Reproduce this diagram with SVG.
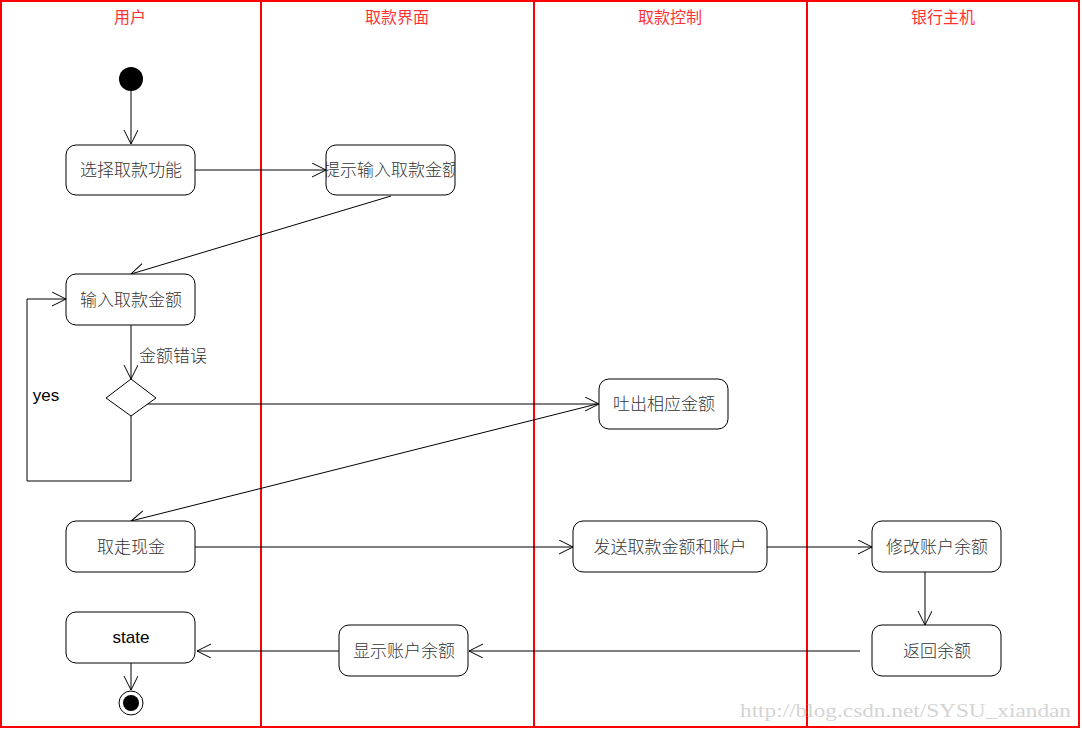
<svg xmlns="http://www.w3.org/2000/svg" width="1082" height="729" viewBox="0 0 1082 729">
<style>
.lane{stroke:#ff0000;stroke-width:2;fill:none}
.hdr{font-family:"Noto Sans CJK SC","Liberation Sans",sans-serif;font-size:16px;fill:#ff3333;text-anchor:middle}
.box{fill:#fff;stroke:#000;stroke-width:1}
.t{font-family:"Noto Sans CJK SC","Liberation Sans",sans-serif;font-size:17px;font-weight:300;fill:#333;text-anchor:middle;dominant-baseline:central}
.e{font-family:"Liberation Sans",Arial,sans-serif;font-size:17px;fill:#000;text-anchor:middle;dominant-baseline:central}
.c{stroke:#000;stroke-width:1;fill:none;marker-end:url(#arr)}
</style>
<defs>
<marker id="arr" markerUnits="userSpaceOnUse" markerWidth="16" markerHeight="16" refX="14" refY="7" orient="auto">
<path d="M0,0 L14,7 L0,14" fill="none" stroke="#000" stroke-width="1"/>
</marker>
<clipPath id="clipTip"><rect x="326" y="145" width="129" height="50" rx="10"/></clipPath>
</defs>
<rect x="0" y="0" width="1082" height="729" fill="#fff"/>
<g id="lanes">
<rect class="lane" x="1" y="1" width="1078" height="726" stroke-width="1.5"/>
<line class="lane" x1="261" y1="1" x2="261" y2="728"/>
<line class="lane" x1="534" y1="1" x2="534" y2="728"/>
<line class="lane" x1="807" y1="1" x2="807" y2="728"/>
<text class="hdr" x="130" y="23">用户</text>
<text class="hdr" x="397" y="23">取款界面</text>
<text class="hdr" x="670" y="23">取款控制</text>
<text class="hdr" x="943" y="23">银行主机</text>
</g>
<g id="connectors">
<line class="c" x1="131" y1="91" x2="131" y2="144"/>
<line class="c" x1="195" y1="170" x2="326" y2="170"/>
<line class="c" x1="391" y1="196" x2="131" y2="274"/>
<line class="c" x1="131" y1="325" x2="131" y2="379"/>
<text class="t" x="173" y="354">金额错误</text>
<line class="c" x1="144" y1="404" x2="599" y2="404"/>
<line class="c" x1="597" y1="404" x2="131" y2="521"/>
<polyline class="c" points="131,416 131,481 27,481 27,299 66,299"/>
<text class="e" x="46" y="395">yes</text>
<line class="c" x1="195" y1="547" x2="573" y2="547"/>
<line class="c" x1="767" y1="547" x2="872" y2="547"/>
<line class="c" x1="925" y1="572" x2="925" y2="625"/>
<line class="c" x1="860" y1="651" x2="469" y2="651"/>
<line class="c" x1="339" y1="651" x2="197" y2="651"/>
<line class="c" x1="131" y1="663" x2="131" y2="690"/>
</g>
<g id="start"><circle cx="131" cy="79" r="12" fill="#000"/></g>
<g id="n_select"><rect class="box" x="66" y="145" width="129" height="50" rx="10"/><text class="t" x="131" y="168">选择取款功能</text></g>
<g id="n_prompt"><rect class="box" x="326" y="145" width="129" height="50" rx="10"/><g clip-path="url(#clipTip)"><text class="t" x="391" y="168">提示输入取款金额</text></g></g>
<g id="n_input"><rect class="box" x="66" y="274" width="129" height="51" rx="10"/><text class="t" x="131" y="298">输入取款金额</text></g>
<g id="decision"><polygon points="131,379 156,398 131,416 106,398" fill="#fff" stroke="#000" stroke-width="1"/></g>
<g id="n_dispense"><rect class="box" x="599" y="379" width="129" height="50" rx="10"/><text class="t" x="664" y="402">吐出相应金额</text></g>
<g id="n_take"><rect class="box" x="66" y="521" width="129" height="51" rx="10"/><text class="t" x="131" y="545">取走现金</text></g>
<g id="n_send"><rect class="box" x="573" y="521" width="194" height="51" rx="10"/><text class="t" x="670" y="545">发送取款金额和账户</text></g>
<g id="n_modify"><rect class="box" x="872" y="521" width="129" height="51" rx="10"/><text class="t" x="937" y="545">修改账户余额</text></g>
<g id="n_state"><rect class="box" x="66" y="612" width="129" height="51" rx="10"/><text class="e" x="131" y="637">state</text></g>
<g id="n_show"><rect class="box" x="339" y="625" width="129" height="51" rx="10"/><text class="t" x="404" y="649">显示账户余额</text></g>
<g id="n_return"><rect class="box" x="872" y="625" width="129" height="51" rx="10"/><text class="t" x="937" y="649">返回余额</text></g>
<g id="end"><circle cx="131" cy="703" r="12" fill="#fff" stroke="#000" stroke-width="1"/><circle cx="131" cy="703" r="8" fill="#000"/></g>
<text x="740" y="717" font-family="Liberation Serif,serif" font-size="19" fill="#d4d4d4" textLength="331" lengthAdjust="spacingAndGlyphs">http://blog.csdn.net/SYSU_xiandan</text>
</svg>
